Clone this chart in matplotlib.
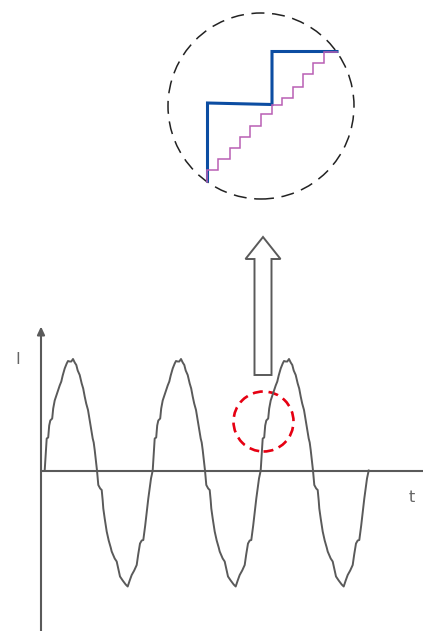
import matplotlib
matplotlib.use("Agg")
import matplotlib.pyplot as plt
from matplotlib.patches import Circle, FancyArrow

# ---------------- data (t, I coordinates; origin at the axes crossing) ----------------
# one period of the (slightly jagged) current waveform
cycle_dt = [0, 1.5, 2, 3.5, 4.5, 5.6, 7.5, 8.5, 10, 12, 14, 15, 16.6, 18, 20, 22, 23.3,
            25, 26.6, 28.3, 30, 31.6, 33, 35, 37, 38.5, 40, 41.5, 43.3, 45, 46.6, 48, 49,
            50, 51.2, 52.3, 53.6, 55.5, 57, 58, 58.6, 60, 62, 64, 66, 67, 70, 72, 73.5,
            75.3, 78, 81, 83, 85, 87, 89.5, 92, 93.5, 95.3, 97, 98.6, 100.5, 102, 103.6,
            105, 106.3, 108]
cycle_I = [0, 25, 32, 33, 45, 50, 52, 62, 70, 76, 82, 85, 89, 95, 102, 107, 109.5,
           109, 109, 111.5, 108, 105.5, 100, 95.5, 87, 82, 74, 67, 60.5, 50, 40.5, 32, 28,
           20.5, 10, 0, -14.5, -18, -19.5, -30, -38, -48, -61, -70, -77, -81, -88, -91, -98,
           -106, -110, -114, -116, -110, -104.5, -100, -94.5, -84, -73, -70, -69.5, -55, -42, -28,
           -18, -8, 0]
cycle_start = [3.7, 111.7, 219.7]

# zoomed view: coarse (blue) and fine (purple) staircase
blue_t = [166.5, 166.5, 231, 231, 296]
blue_I = [289.5, 367.5, 366, 419, 419]
purple_edges = [166.3, 177.3, 189, 199, 209, 220, 230.7, 240.7, 252.3, 262.3, 272.3, 283.3, 295.7]
purple_levels = [288.8, 300.5, 311.2, 322.2, 333.2, 344.5, 356.5, 365.5, 372.2, 383.8,
                 396.2, 407.8, 418.8]

axis_label_I = "I"
axis_label_t = "t"

GRAY = "#5a5a5a"

fig = plt.figure(figsize=(4.23, 6.31), dpi=100)
ax = fig.add_axes([0, 0, 1, 1])
ax.set_xlim(-41, 382)
ax.set_ylim(-160.5, 470.5)
ax.axis("off")

# axes
ax.annotate("", xy=(0, 144), xytext=(0, -161),
            arrowprops=dict(arrowstyle="-|>,head_length=0.47,head_width=0.22",
                            color=GRAY, lw=1.5, shrinkA=0, shrinkB=0))
ax.plot([0, 382], [0, 0], color=GRAY, lw=1.5, solid_capstyle="butt")
ax.text(-23.3, 111.5, axis_label_I, fontsize=11.5, color="#666666", ha="center", va="center")
ax.text(370.7, -27.5, axis_label_t, fontsize=11.5, color="#666666", ha="center", va="center")

# waveform
wt, wi = [], []
for s in cycle_start:
    wt.extend([s + d for d in cycle_dt])
    wi.extend(cycle_I)
ax.plot(wt, wi, color=GRAY, lw=1.4, solid_joinstyle="round")

# red dashed circle marking the zoomed region
ax.add_patch(Circle((222.5, 49), 30, fill=False, ec="#e60012", lw=1.9,
                    linestyle=(0, (3.8, 2.2))))

# hollow arrow
ax.add_patch(FancyArrow(222, 95.5, 0, 138, width=17, head_width=35, head_length=22,
                        length_includes_head=True, fc="white", ec=GRAY, lw=1.4))

# big dashed circle (zoom)
ax.add_patch(Circle((220, 364.5), 93, fill=False, ec="#222222", lw=1.1,
                    linestyle=(0, (8.5, 5))))

# blue coarse staircase
ax.plot(blue_t, blue_I, color="#0c4da2", lw=2.2, solid_joinstyle="miter")

# purple fine staircase
pt, pi = [purple_edges[0]], [purple_levels[0]]
for k in range(1, len(purple_levels)):
    pt.append(purple_edges[k - 1]); pi.append(purple_levels[k])
    pt.append(purple_edges[k]); pi.append(purple_levels[k])
ax.plot(pt, pi, color="#b95fb4", lw=1.1, solid_joinstyle="miter")

fig.savefig("out.png", dpi=100)
